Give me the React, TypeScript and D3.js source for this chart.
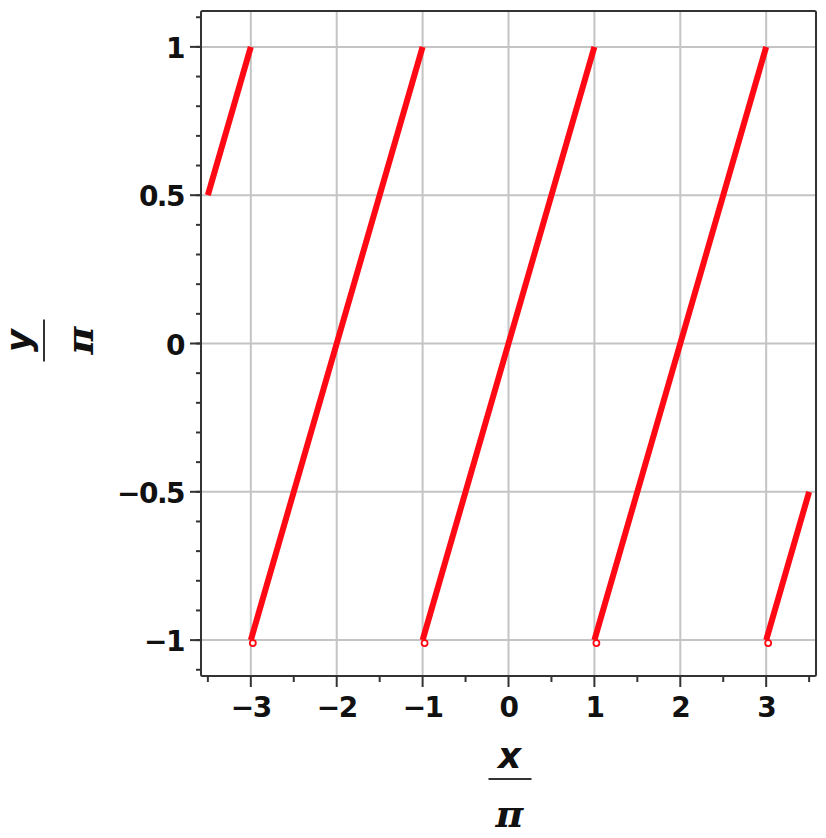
import React from "react";
import * as d3 from "d3";

const segmentStarts = [[-3.5, 0.5], [-3, -1], [-1, -1], [1, -1], [3, -1]];
const segmentEnds = [[-3, 1], [-1, 1], [1, 1], [3, 1], [3.5, -0.5]];
const openPoints = [[-3, -1], [-1, -1], [1, -1], [3, -1]];
const xTicks = [-3, -2, -1, 0, 1, 2, 3];
const xMinorTicks = [-3.5, -2.5, -1.5, -0.5, 0.5, 1.5, 2.5, 3.5];
const yTicks = [-1, -0.5, 0, 0.5, 1];
const yTickLabels = ["\u22121", "\u22120.5", "0", "0.5", "1"];
const xTickLabels = ["\u22123", "\u22122", "\u22121", "0", "1", "2", "3"];
const yMinorTicks = d3.range(-11, 12).map((v) => v / 10);

const W = 826;
const H = 838;
const left = 201;
const right = 816;
const top = 11;
const bottom = 676;

export default function App() {
  const x = d3.scaleLinear().domain([-3.58, 3.58]).range([left, right]);
  const y = d3.scaleLinear().domain([-1.121, 1.121]).range([bottom, top]);
  const line = d3.line<number[]>().x((d) => x(d[0])).y((d) => y(d[1]));
  const font = "'DejaVu Sans', Verdana, sans-serif";
  const piFont = "'DejaVu Serif', serif";
  return (
    <svg width={W} height={H} style={{ position: "absolute", left: 0, top: 0, background: "#fff" }}>
      {/* grid */}
      {xTicks.map((t) => (
        <line key={"gx" + t} x1={x(t)} x2={x(t)} y1={top} y2={bottom} stroke="#c4c4c4" strokeWidth={2} />
      ))}
      {yTicks.map((t) => (
        <line key={"gy" + t} x1={left} x2={right} y1={y(t)} y2={y(t)} stroke="#c4c4c4" strokeWidth={2} />
      ))}
      {/* frame */}
      <rect x={left} y={top} width={right - left} height={bottom - top} fill="none" stroke="#333" strokeWidth={2} rx={1.5} />
      {/* ticks */}
      {xTicks.map((t) => (
        <line key={"tx" + t} x1={x(t)} x2={x(t)} y1={bottom} y2={bottom + 11} stroke="#333" strokeWidth={2} />
      ))}
      {xMinorTicks.map((t) => (
        <line key={"mx" + t} x1={x(t)} x2={x(t)} y1={bottom} y2={bottom + 6} stroke="#333" strokeWidth={2} />
      ))}
      {yTicks.map((t) => (
        <line key={"ty" + t} x1={left - 11} x2={left} y1={y(t)} y2={y(t)} stroke="#333" strokeWidth={2} />
      ))}
      {yMinorTicks.map((t) => (
        <line key={"my" + t} x1={left - 5} x2={left} y1={y(t)} y2={y(t)} stroke="#333" strokeWidth={2} />
      ))}
      {/* tick labels */}
      {xTicks.map((t, i) => (
        <text key={"lx" + t} x={x(t)} y={bottom + 41} textAnchor="middle" fontFamily={font} fontWeight="bold" fontSize={28} letterSpacing={-1.5} fill="#111">
          {xTickLabels[i]}
        </text>
      ))}
      {yTicks.map((t, i) => (
        <text key={"ly" + t} x={left - 17} y={y(t) + 11} textAnchor="end" fontFamily={font} fontWeight="bold" fontSize={28} letterSpacing={-1.5} fill="#111">
          {yTickLabels[i]}
        </text>
      ))}
      {/* data */}
      {segmentStarts.map((s, i) => (
        <path key={"seg" + i} d={line([s, segmentEnds[i]]) || ""} fill="none" stroke="#ff0a14" strokeWidth={6} />
      ))}
      {openPoints.map((p, i) => (
        <circle key={"op" + i} cx={x(p[0]) + 2} cy={y(p[1]) + 3} r={3} fill="#fff" stroke="#ff0a14" strokeWidth={1.8} />
      ))}
      {/* x axis label */}
      <g transform={`translate(${(left + right) / 2 + 1},0)`}>
        <text x={0} y={768} textAnchor="middle" fontFamily={font} fontWeight="bold" fontStyle="italic" fontSize={36} fill="#111">x</text>
        <line x1={-21} x2={22} y1={779} y2={779} stroke="#333" strokeWidth={2} />
        <text x={0} y={827} textAnchor="middle" fontFamily={piFont} fontWeight="bold" fontStyle="italic" fontSize={38} fill="#111">π</text>
      </g>
      {/* y axis label */}
      <g transform={`translate(0,${(top + bottom) / 2 - 3}) rotate(-90)`}>
        <text x={0} y={31} textAnchor="middle" fontFamily={font} fontWeight="bold" fontStyle="italic" fontSize={35} fill="#111">y</text>
        <line x1={-21} x2={21} y1={44} y2={44} stroke="#333" strokeWidth={2} />
        <text x={0} y={93} textAnchor="middle" fontFamily={piFont} fontWeight="bold" fontStyle="italic" fontSize={38} fill="#111">π</text>
      </g>
    </svg>
  );
}
